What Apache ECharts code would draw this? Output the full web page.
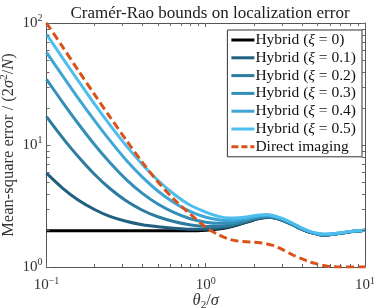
<!DOCTYPE html>
<html><head><meta charset="utf-8">
<script src="https://cdn.jsdelivr.net/npm/echarts@6/dist/echarts.min.js"></script>
<style>html,body{margin:0;padding:0;background:#fff}#c{width:374px;height:308px}</style>
</head><body><div id="c"></div>
<script>
const theta = [0.1,0.126,0.158,0.2,0.25,0.316,0.4,0.5,0.63,0.79,1.0,1.2,1.4,1.6,1.8,2.0,2.2,2.4,2.6,2.8,3.0,3.5,4.0,4.5,5.0,5.5,6.0,7.0,8.0,9.0,10];
const hyb00 = [1.98,1.98,1.98,1.98,1.98,1.98,1.98,1.98,1.98,1.98,2.0,2.05,2.12,2.22,2.33,2.43,2.51,2.55,2.54,2.49,2.42,2.22,2.04,1.92,1.86,1.83,1.84,1.89,1.94,1.97,2.0];
const hyb01 = [5.88,4.44,3.54,2.96,2.60,2.37,2.22,2.14,2.08,2.04,2.04,2.08,2.14,2.24,2.34,2.44,2.52,2.56,2.55,2.50,2.42,2.22,2.04,1.92,1.86,1.83,1.84,1.89,1.94,1.97,2.0];
const hyb02 = [17.1,11.5,8.04,5.76,4.40,3.49,2.92,2.58,2.36,2.22,2.15,2.16,2.20,2.28,2.38,2.47,2.54,2.58,2.56,2.51,2.44,2.23,2.05,1.93,1.87,1.83,1.84,1.89,1.94,1.97,2.0];
const hyb03 = [34.5,22.5,15.0,10.1,7.18,5.23,4.01,3.28,2.80,2.50,2.33,2.28,2.29,2.35,2.43,2.51,2.58,2.61,2.59,2.53,2.46,2.25,2.06,1.94,1.87,1.84,1.85,1.89,1.94,1.97,2.0];
const hyb04 = [57.5,37.0,24.2,15.9,10.9,7.53,5.45,4.20,3.38,2.87,2.56,2.44,2.40,2.44,2.50,2.57,2.63,2.65,2.62,2.56,2.48,2.27,2.08,1.95,1.88,1.85,1.86,1.90,1.95,1.98,2.0];
const hyb05 = [81.0,51.8,33.7,21.7,14.6,9.88,6.92,5.14,3.97,3.24,2.82,2.60,2.52,2.53,2.57,2.63,2.67,2.69,2.66,2.59,2.51,2.29,2.09,1.96,1.89,1.86,1.86,1.91,1.95,1.98,2.0];
const direct = [100,64,41,26,17,11,7.2,5.0,3.6,2.75,2.12,1.84,1.69,1.63,1.61,1.60,1.58,1.55,1.51,1.46,1.40,1.26,1.17,1.10,1.06,1.03,1.01,1.0,1.0,1.0,1.0];
const seriesNames = ['Hybrid (ξ = 0)','Hybrid (ξ = 0.1)','Hybrid (ξ = 0.2)','Hybrid (ξ = 0.3)','Hybrid (ξ = 0.4)','Hybrid (ξ = 0.5)','Direct imaging'];
const xiLabels = ['0','0.1','0.2','0.3','0.4','0.5'];
const xMinor = [0.2,0.3,0.4,0.5,0.6,0.7,0.8,0.9,2,3,4,5,6,7,8,9];
const yMinor = [2,3,4,5,6,7,8,9,20,30,40,50,60,70,80,90];
const colors = ['#000000','#22607f','#2b7c9f','#338fb8','#3fa6d6','#4dbeee','#d95319'];

const FF = 'Liberation Serif';
const chart = echarts.init(document.getElementById('c'), null, {renderer:'canvas'});
const allY = [hyb00,hyb01,hyb02,hyb03,hyb04,hyb05,direct];
const zip = arr => theta.map((t,i)=>[t,arr[i]]);
const tickFmt = v => {
  const e = Math.round(Math.log10(v));
  return '{b|10}{s|' + (e<0 ? '\u2212'+(-e) : e) + '}';
};
const tickRich = {b:{fontFamily:FF,fontSize:15,color:'#333'}, s:{fontFamily:FF,fontSize:10,color:'#333',verticalAlign:'bottom',padding:[0,0,9,0]}};
const lineSeries = allY.map((arr,k)=>({
  name: seriesNames[k], type:'line', data: zip(arr), showSymbol:false, symbol:'none',
  smooth:0.3, xAxisIndex:0, yAxisIndex:0,
  lineStyle:{color:colors[k], width:3, type: k===6 ? [8,4] : 'solid'},
  itemStyle:{color:colors[k]}, z: 3 + k
}));
const tickSeries = {
  type:'custom', xAxisIndex:0, yAxisIndex:0, silent:true, z:20,
  data: xMinor.map(v=>[v,'x']).concat(yMinor.map(v=>[v,'y'])),
  renderItem:(params, api)=>{
    const cs = params.coordSys;
    const v = api.value(0);
    const kind = params.dataIndex < xMinor.length ? 'x' : 'y';
    const L = 3; const st = {stroke:'#666', lineWidth:1};
    if (kind==='x') {
      const x = Math.round(api.coord([v,1])[0]) + 0.5;
      return {type:'group', children:[
        {type:'line', shape:{x1:x,y1:cs.y+cs.height,x2:x,y2:cs.y+cs.height-L}, style:st},
        {type:'line', shape:{x1:x,y1:cs.y,x2:x,y2:cs.y+L}, style:st}
      ]};
    } else {
      const y = Math.round(api.coord([1,v])[1]) + 0.5;
      return {type:'group', children:[
        {type:'line', shape:{x1:cs.x,y1:y,x2:cs.x+L,y2:y}, style:st},
        {type:'line', shape:{x1:cs.x+cs.width,y1:y,x2:cs.x+cs.width-L,y2:y}, style:st}
      ]};
    }
  }
};
const legendFmt = name => {
  const k = seriesNames.indexOf(name);
  if (k < 6) return '{t|Hybrid (}{i|ξ}{t| = ' + xiLabels[k] + ')}';
  return '{t|Direct imaging}';
};
const solidIcon = 'path://M0,0h23v3h-23z';
const dashIcon = 'path://M0,0h7v3h-7zM10,0h6v3h-6zM19,0h4v3h-4z';
const axisLine = {show:true, lineStyle:{color:'#555', width:1}};
const nameRich = {i:{fontFamily:FF,fontSize:16.5,fontStyle:'italic',color:'#333'}, t:{fontFamily:FF,fontSize:16.5,color:'#333'}};
chart.setOption({
  animation:false,
  backgroundColor:'#fff',
  title:{text:'Cramér-Rao bounds on localization error', left:205, top:0, textAlign:'center',
    textStyle:{fontFamily:FF, fontSize:17, fontWeight:'normal', color:'#222'}},
  grid:{left:46.5, right:9, top:23, bottom:41, containLabel:false, outerBoundsMode:'none'},
  legend:{orient:'vertical', right:12, top:30, itemWidth:23, itemHeight:3, itemGap:1.8,
    borderColor:'#333', borderWidth:1, backgroundColor:'#fff', padding:[2,6,2,4],
    data: seriesNames.map((n,k)=>({name:n, icon: k===6 ? dashIcon : solidIcon})),
    formatter: legendFmt,
    textStyle:{padding:[0,0,0,-4], rich:{t:{fontFamily:FF,fontSize:15.5,color:'#111',lineHeight:16.5}, i:{fontFamily:FF,fontSize:15.5,fontStyle:'italic',color:'#111',lineHeight:16.5}}}},
  xAxis:[
    {type:'log', logBase:10, min:0.1, max:10, splitNumber:2,
      axisLine: axisLine, axisTick:{show:true, inside:true, length:4, lineStyle:{color:'#666'}},
      axisLabel:{formatter:tickFmt, rich:tickRich, margin:9},
      splitLine:{show:false},
      name:'{i|θ}{s|2}{t|/}{i|σ}', nameLocation:'middle', nameGap:24, nameMoveOverlap:false,
      nameTextStyle:{rich:Object.assign({s:{fontFamily:FF,fontSize:11,color:'#333',verticalAlign:'top',padding:[9,0,0,0]}}, nameRich)}},
    {type:'log', logBase:10, min:0.1, max:10, position:'top',
      axisLine: axisLine, axisTick:{show:true, inside:true, length:4, lineStyle:{color:'#666'}},
      axisLabel:{show:false}, splitLine:{show:false}}
  ],
  yAxis:[
    {type:'log', logBase:10, min:1, max:100, splitNumber:2,
      axisLine: axisLine, axisTick:{show:true, inside:true, length:4, lineStyle:{color:'#666'}},
      axisLabel:{formatter:tickFmt, rich:tickRich, margin:4},
      splitLine:{show:false},
      name:'{t|Mean-square error / (2}{i|σ}{s|2}{t|/}{i|N}{t|)}', nameLocation:'middle', nameGap:28, nameMoveOverlap:false,
      nameTextStyle:{rich:Object.assign({s:{fontFamily:FF,fontSize:11,color:'#333',verticalAlign:'bottom',padding:[0,0,9,0]}}, nameRich)}},
    {type:'log', logBase:10, min:1, max:100, position:'right',
      axisLine: axisLine, axisTick:{show:true, inside:true, length:4, lineStyle:{color:'#666'}},
      axisLabel:{show:false}, splitLine:{show:false}}
  ],
  series: lineSeries.concat([tickSeries])
});
</script></body></html>
